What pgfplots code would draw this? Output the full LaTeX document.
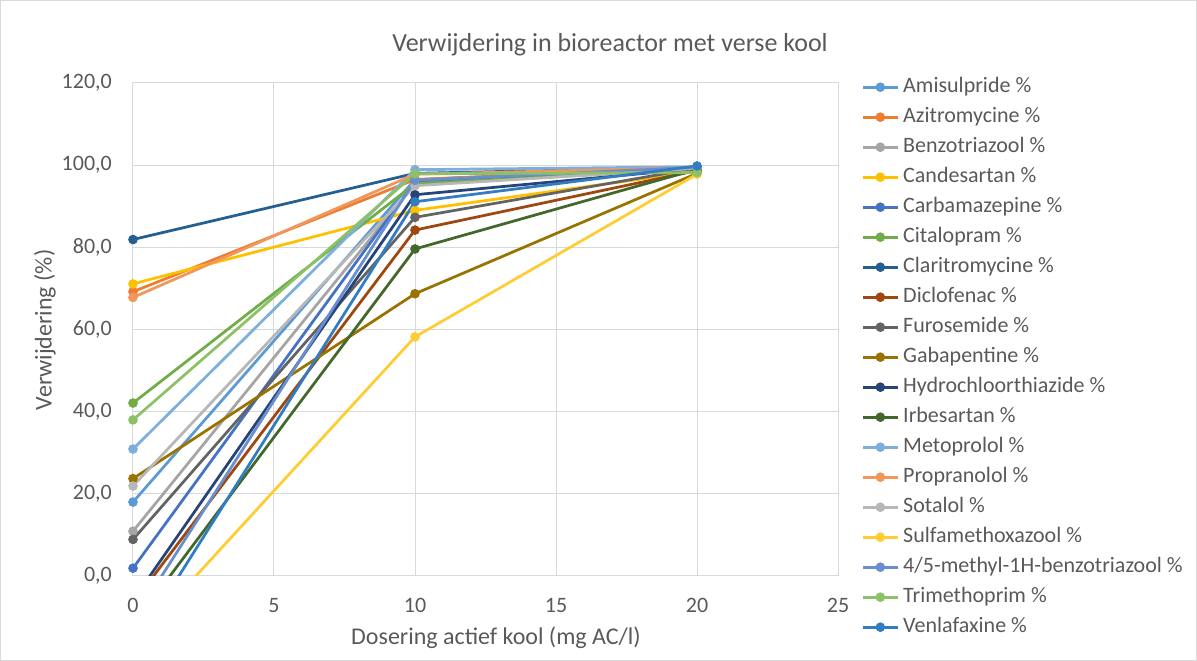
\documentclass[border=0pt]{standalone}
\usepackage{fontspec}
\setmainfont{Carlito}
\usepackage{pgfplots}
\pgfplotsset{compat=1.18}

\definecolor{gridgray}{HTML}{D9D9D9}
\definecolor{txtgray}{HTML}{595959}
\definecolor{c01}{HTML}{5B9BD5}
\definecolor{c02}{HTML}{ED7D31}
\definecolor{c03}{HTML}{A5A5A5}
\definecolor{c04}{HTML}{FFC000}
\definecolor{c05}{HTML}{4472C4}
\definecolor{c06}{HTML}{70AD47}
\definecolor{c07}{HTML}{255E91}
\definecolor{c08}{HTML}{9E480E}
\definecolor{c09}{HTML}{636363}
\definecolor{c10}{HTML}{997300}
\definecolor{c11}{HTML}{264478}
\definecolor{c12}{HTML}{43682B}
\definecolor{c13}{HTML}{7CAFDD}
\definecolor{c14}{HTML}{F1975A}
\definecolor{c15}{HTML}{B7B7B7}
\definecolor{c16}{HTML}{FFCD33}
\definecolor{c17}{HTML}{698ED0}
\definecolor{c18}{HTML}{8CC168}
\definecolor{c19}{HTML}{327DC2}

\begin{document}
\begin{tikzpicture}
\path[use as bounding box] (-133pt,-85pt) rectangle (1064pt,576pt);
\draw[gridgray, line width=1pt] (-132.5pt,-84.5pt) rectangle (1063.5pt,575.5pt);
\begin{axis}[
  scale only axis,
  width=705pt, height=493pt,
  xmin=0, xmax=25, ymin=0, ymax=120,
  xtick={0,5,...,25}, ytick={0,20,...,120},
  grid=major,
  grid style={gridgray, line width=1pt},
  axis line style={gridgray, line width=1pt},
  major tick length=0pt,
  /pgf/number format/assume math mode=true,
  tick label style={font=\fontsize{22}{26}\selectfont, text=txtgray, inner sep=0pt},
  yticklabel style={xshift=-21pt, /pgf/number format/.cd, fixed, fixed zerofill, precision=1, use comma},
  xticklabel style={yshift=-22pt},
  title={Verwijdering in bioreactor met verse kool},
  title style={at={(axis description cs:0.6766,1)}, anchor=center, yshift=32pt,
    font=\fontsize{26}{30}\selectfont, text=txtgray},
  xlabel={Dosering actief kool (mg AC/l)},
  xlabel style={at={(axis description cs:0.5149,-0.1260)}, anchor=center,
    font=\fontsize{24}{28}\selectfont, text=txtgray},
  ylabel={Verwijdering (\%)},
  ylabel style={at={(axis description cs:-0.1248,0.499)}, anchor=center,
    font=\fontsize{24}{28}\selectfont, text=txtgray},
  every axis plot/.append style={line width=2.75pt, mark=*, mark size=4.3pt,
    mark options={solid, line width=1pt}, line join=round},
  legend cell align=left,
  legend image code/.code={\draw[mark repeat=2, mark phase=2]
    plot coordinates {(0pt,0pt) (17.5pt,0pt) (35pt,0pt)};},
  legend style={draw=none, fill=none, inner sep=0pt, anchor=north west,
    at={(axis description cs:1.033,1.0122)},
    font=\fontsize{22}{26}\selectfont, text=txtgray,
    row sep=10pt, column sep=4pt,
    nodes={inner sep=0pt, text height=15pt, text depth=5pt}},
]
% removal (%) at AC dose 0, 10 and 20 mg/l
\addplot[c01] coordinates {(0,18.0) (10,96.5) (20,99.5)};
\addlegendentry{Amisulpride \%}
\addplot[c02] coordinates {(0,69.2) (10,96.5) (20,99.3)};
\addlegendentry{Azitromycine \%}
\addplot[c03] coordinates {(0,10.9) (10,95.5) (20,99.0)};
\addlegendentry{Benzotriazool \%}
\addplot[c04] coordinates {(0,71.1) (10,89.0) (20,98.5)};
\addlegendentry{Candesartan \%}
\addplot[c05] coordinates {(0,1.9) (10,96.0) (20,99.5)};
\addlegendentry{Carbamazepine \%}
\addplot[c06] coordinates {(0,42.1) (10,95.5) (20,99.0)};
\addlegendentry{Citalopram \%}
\addplot[c07] coordinates {(0,81.9) (10,98.0) (20,99.5)};
\addlegendentry{Claritromycine \%}
\addplot[c08] coordinates {(0,-6.6) (10,84.2) (20,98.7)};
\addlegendentry{Diclofenac \%}
\addplot[c09] coordinates {(0,8.9) (10,87.3) (20,99.3)};
\addlegendentry{Furosemide \%}
\addplot[c10] coordinates {(0,23.7) (10,68.7) (20,98.0)};
\addlegendentry{Gabapentine \%}
\addplot[c11] coordinates {(0,-5.9) (10,92.8) (20,99.2)};
\addlegendentry{Hydrochloorthiazide \%}
\addplot[c12] coordinates {(0,-12.0) (10,79.6) (20,99.0)};
\addlegendentry{Irbesartan \%}
\addplot[c13] coordinates {(0,30.9) (10,98.9) (20,99.6)};
\addlegendentry{Metoprolol \%}
\addplot[c14] coordinates {(0,67.8) (10,97.8) (20,99.4)};
\addlegendentry{Propranolol \%}
\addplot[c15] coordinates {(0,21.9) (10,95.0) (20,99.2)};
\addlegendentry{Sotalol \%}
\addplot[c16] coordinates {(0,-16.7) (10,58.2) (20,97.8)};
\addlegendentry{Sulfamethoxazool \%}
\addplot[c17] coordinates {(0,-10.9) (10,96.3) (20,99.5)};
\addlegendentry{4/5-methyl-1H-benzotriazool \%}
\addplot[c18] coordinates {(0,38.0) (10,97.9) (20,98.2)};
\addlegendentry{Trimethoprim \%}
\addplot[c19] coordinates {(0,-17.7) (10,91.1) (20,99.8)};
\addlegendentry{Venlafaxine \%}
\end{axis}
\end{tikzpicture}
\end{document}
